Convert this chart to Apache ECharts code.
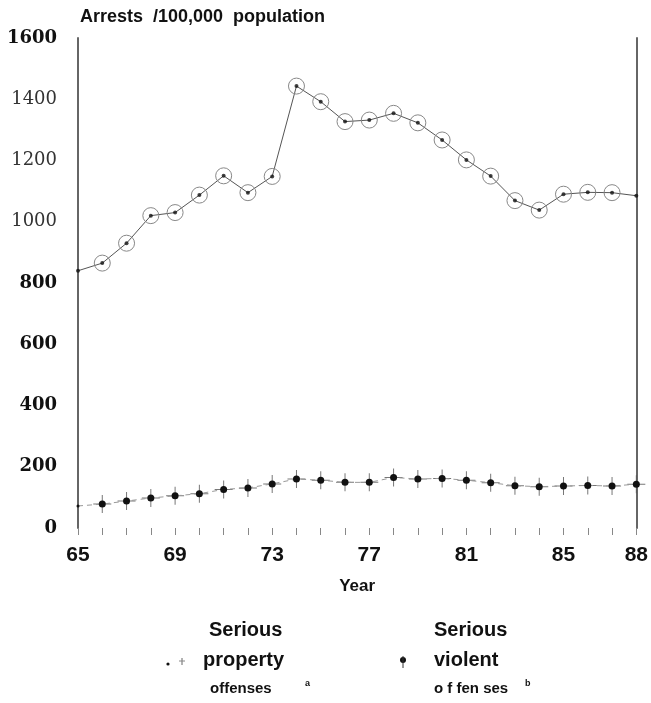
<!DOCTYPE html>
<html>
<head>
<meta charset="utf-8">
<script src="https://cdn.jsdelivr.net/npm/echarts@6/dist/echarts.min.js"></script>
<style>
html,body{margin:0;padding:0;background:#fff;}
#chart{width:651px;height:703px;}
</style>
</head>
<body>
<div id="chart"></div>
<script>
const years = [65, 66, 67, 68, 69, 70, 71, 72, 73, 74, 75, 76, 77, 78, 79, 80, 81, 82, 83, 84, 85, 86, 87, 88];
const propertyOffenses = [840, 865, 930, 1020, 1030, 1087, 1150, 1095, 1148, 1443, 1392, 1327, 1332, 1354, 1323, 1267, 1202, 1149, 1069, 1038, 1090, 1096, 1095, 1085];
const violentOffenses = [72, 78, 88, 98, 105, 112, 126, 131, 144, 160, 156, 149, 149, 165, 160, 162, 156, 148, 138, 135, 137, 139, 137, 143];
const xTickLabels = ['65', '69', '73', '77', '81', '85', '88'];
const yTickLabels = ['0', '200', '400', '600', '800', '1000', '1200', '1400', '1600'];
const yLightLabels = ['1000', '1200', '1400'];

const chart = echarts.init(document.getElementById('chart'));

const propPairs = years.map((y, i) => {
  const item = { value: [y, propertyOffenses[i]] };
  if (i === 0 || i === years.length - 1) item.symbol = 'none';
  return item;
});
const propDots = years.map((y, i) => [y, propertyOffenses[i]]);
const violPairs = years.map((y, i) => {
  const item = { value: [y, violentOffenses[i]] };
  if (i === 0) item.symbolSize = 3;
  return item;
});
const violCross = years.map((y, i) => {
  const item = { value: [y, violentOffenses[i]] };
  if (i === 0) item.symbol = 'none';
  return item;
});

const plusPath = 'path://M8.5,0h1v18h-1zM0,8.5h18v1h-18z';
const sans = '"Liberation Sans", Arial, sans-serif';

chart.setOption({
  backgroundColor: '#fff',
  animation: false,
  title: {
    text: 'Arrests  /100,000  population',
    left: 75,
    top: 3,
    textStyle: { fontFamily: sans, fontWeight: 'bold', fontSize: 18, color: '#111' }
  },
  grid: { left: 78, right: 12, top: 38, bottom: 175 },
  xAxis: {
    type: 'value',
    min: 65,
    max: 88,
    interval: 1,
    name: 'Year',
    nameLocation: 'middle',
    nameGap: 50,
    nameTextStyle: { fontFamily: sans, fontWeight: 'bold', fontSize: 17, color: '#111' },
    axisLine: { show: false },
    axisTick: { show: true, length: 7, inside: false, lineStyle: { color: '#888', width: 1 } },
    splitLine: { show: false },
    axisLabel: {
      margin: 17,
      fontFamily: sans,
      fontWeight: 'bold',
      fontSize: 21,
      color: '#111',
      showMinLabel: true,
      showMaxLabel: true,
      formatter: function (v) {
        const s = String(Math.round(v));
        return xTickLabels.indexOf(s) >= 0 ? s : '';
      }
    }
  },
  yAxis: [
    {
      type: 'value',
      min: 0,
      max: 1600,
      interval: 200,
      position: 'left',
      axisLine: { show: true, lineStyle: { color: '#666', width: 2 } },
      axisTick: { show: false },
      splitLine: { show: false },
      axisLabel: {
        margin: 21,
        formatter: function (v) {
          const s = yTickLabels[Math.round(v / 200)];
          return yLightLabels.indexOf(s) >= 0 ? '{r|' + s + '}' : '{b|' + s + '}';
        },
        rich: {
          b: { fontFamily: 'DejaVu Serif, serif', fontWeight: 'bold', fontSize: 18, color: '#111' },
          r: { fontFamily: 'DejaVu Serif, serif', fontWeight: 'normal', fontSize: 18, color: '#333' }
        }
      }
    },
    {
      type: 'value',
      min: 0,
      max: 1600,
      interval: 200,
      position: 'right',
      axisLine: { show: true, lineStyle: { color: '#666', width: 2 } },
      axisTick: { show: false },
      splitLine: { show: false },
      axisLabel: { show: false }
    }
  ],
  series: [
    {
      name: 'Serious property offenses',
      type: 'line',
      data: propPairs,
      symbol: 'circle',
      symbolSize: 16,
      showAllSymbol: true,
      lineStyle: { color: '#555', width: 1 },
      itemStyle: { color: 'rgba(255,255,255,0)', borderColor: '#888', borderWidth: 1 },
      z: 3
    },
    {
      name: 'property dots',
      type: 'scatter',
      data: propDots,
      symbol: 'circle',
      symbolSize: 4,
      itemStyle: { color: '#111' },
      z: 4
    },
    {
      name: 'Serious violent offenses',
      type: 'line',
      data: violPairs,
      symbol: 'circle',
      symbolSize: 7,
      showAllSymbol: true,
      lineStyle: { color: '#999', width: 1, type: [5, 4] },
      itemStyle: { color: '#111' },
      z: 4
    },
    {
      name: 'violent cross',
      type: 'scatter',
      data: violCross,
      symbol: plusPath,
      symbolSize: 18,
      itemStyle: { color: '#555' },
      z: 3
    }
  ],
  graphic: [
    { type: 'text', left: 209, top: 620, style: { text: 'Serious', font: 'bold 20px ' + sans, fill: '#111' } },
    { type: 'text', left: 203, top: 650, style: { text: 'property', font: 'bold 20px ' + sans, fill: '#111' } },
    { type: 'text', left: 210, top: 681, style: { text: 'offenses', font: 'bold 15px ' + sans, fill: '#111' } },
    { type: 'text', left: 305, top: 679, style: { text: 'a', font: 'bold 9px ' + sans, fill: '#111' } },
    { type: 'circle', shape: { cx: 168, cy: 664, r: 1.6 }, style: { fill: '#111' } },
    { type: 'line', shape: { x1: 182, y1: 658, x2: 182, y2: 665 }, style: { stroke: '#666', lineWidth: 1 } },
    { type: 'line', shape: { x1: 179, y1: 661, x2: 185, y2: 661 }, style: { stroke: '#888', lineWidth: 1 } },

    { type: 'text', left: 434, top: 620, style: { text: 'Serious', font: 'bold 20px ' + sans, fill: '#111' } },
    { type: 'text', left: 434, top: 650, style: { text: 'violent', font: 'bold 20px ' + sans, fill: '#111' } },
    { type: 'text', left: 434, top: 681, style: { text: 'o f fen ses', font: 'bold 15px ' + sans, fill: '#111' } },
    { type: 'text', left: 525, top: 679, style: { text: 'b', font: 'bold 9px ' + sans, fill: '#111' } },
    { type: 'circle', shape: { cx: 403, cy: 660, r: 3 }, style: { fill: '#111' } },
    { type: 'line', shape: { x1: 403, y1: 656, x2: 403, y2: 668 }, style: { stroke: '#333', lineWidth: 1 } }
  ]
});
</script>
</body>
</html>
